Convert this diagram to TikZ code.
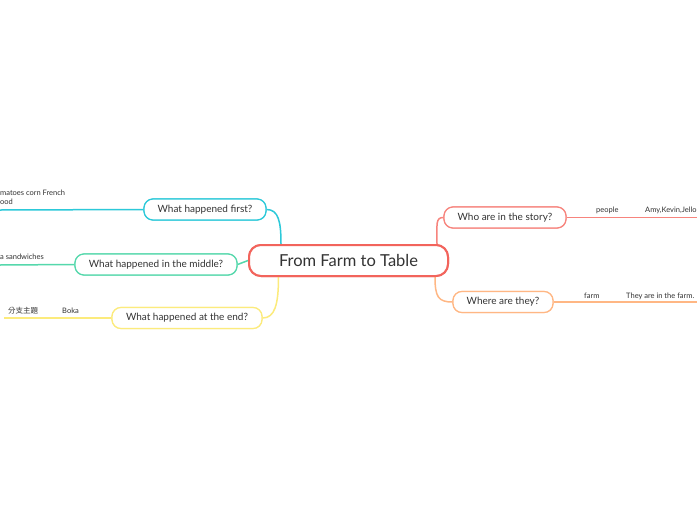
\documentclass[tikz,border=0pt]{standalone}
\usepackage{fontspec}
\setmainfont{Lato}
\newfontfamily\cjk{Noto Sans CJK TC}
\definecolor{centc}{HTML}{F2645C}
\definecolor{whoc}{HTML}{F7847D}
\definecolor{wherec}{HTML}{FFB784}
\definecolor{firstc}{HTML}{2CC9D9}
\definecolor{midc}{HTML}{55D8AC}
\definecolor{endc}{HTML}{FCEB7C}
\definecolor{txt}{HTML}{333333}
\begin{document}
\begin{tikzpicture}[x=1pt,y=-1pt,
  central/.style={draw=centc, line width=2pt, rounded corners=12pt, fill=white,
    minimum width=199pt, minimum height=31pt, inner sep=0pt, text=txt,
    font=\fontsize{16.5}{18}\selectfont},
  topic/.style={line width=1.2pt, rounded corners=9pt, fill=white,
    minimum height=21pt, inner sep=0pt, text=txt,
    font=\fontsize{10}{12}\selectfont},
  conn/.style={line width=1.5pt},
  lbl/.style={inner sep=0pt, text=txt, font=\fontsize{7.5}{9}\selectfont}]
\useasboundingbox (0,0) rectangle (697,520);
\clip (0,0) rectangle (697,520);
\fill[white] (0,0) rectangle (697,520);

% free ends of sub-branch lines
\coordinate (whoR) at (697,217.5);
\coordinate (whereR) at (697,302);
\coordinate (firstL) at (0,210);
\coordinate (midL) at (0,265);
\coordinate (endL) at (4,318);

\node[central] (c) at (348.5,260.5) {From Farm to Table};
\node[topic, draw=whoc, minimum width=122pt] (who) at (505,217.5) {Who are in the story?};
\node[topic, draw=wherec, minimum width=100pt] (where) at (503,302) {Where are they?};
\node[topic, draw=firstc, minimum width=122pt] (first) at (205,209.5) {What happened first?};
\node[topic, draw=midc, minimum width=162pt] (mid) at (156,264.5) {What happened in the middle?};
\node[topic, draw=endc, minimum width=150pt] (endq) at (187,318) {What happened at the end?};

\draw[whoc, conn] (who.east) -- (whoR);
\draw[wherec, conn] (where.east) -- (whereR);
\draw[firstc, conn] (first.west) -- (firstL);
\draw[midc, conn] (mid.west) -- (midL);
\draw[endc, conn] (endq.west) -- (endL);

\draw[firstc, conn] ([xshift=-67.5pt]c.north) .. controls +(0,-22) and +(12,0) .. (first.east);
\draw[whoc, conn] ([xshift=88.5pt]c.north) .. controls +(0,-20) and +(-8,0) .. (who.west);
\draw[midc, conn] (mid.east) -- (c.west);
\draw[endc, conn] ([xshift=-70pt]c.south) .. controls +(0,28) and +(12,0) .. (endq.east);
\draw[wherec, conn] ([xshift=86.5pt]c.south) .. controls +(0,20) and +(-14,0) .. (where.west);

% redraw nodes on top of connectors
\node[central] at (c) {From Farm to Table};
\node[topic, draw=whoc, minimum width=122pt] at (who) {Who are in the story?};
\node[topic, draw=wherec, minimum width=100pt] at (where) {Where are they?};
\node[topic, draw=firstc, minimum width=122pt] at (first) {What happened first?};
\node[topic, draw=midc, minimum width=162pt] at (mid) {What happened in the middle?};
\node[topic, draw=endc, minimum width=150pt] at (endq) {What happened at the end?};

% labels
\node[lbl, anchor=west] (people) at (596,210) {people};
\node[lbl, anchor=west] (amy) at (645,210) {Amy,Kevin,Jello};
\node[lbl, anchor=west] (farm) at (584,296) {farm};
\node[lbl, anchor=west] (inf) at (626,296) {They are in the farm.};
\node[lbl, anchor=west] (food1) at (0,193) {matoes corn French};
\node[lbl, anchor=west] (food2) at (0,202) {ood};
\node[lbl, anchor=west] (sand) at (0,257) {a sandwiches};
\node[lbl, anchor=west] (branch) at (8,311) {\cjk 分支主題};
\node[lbl, anchor=west] (boka) at (62,311) {Boka};
\end{tikzpicture}
\end{document}
